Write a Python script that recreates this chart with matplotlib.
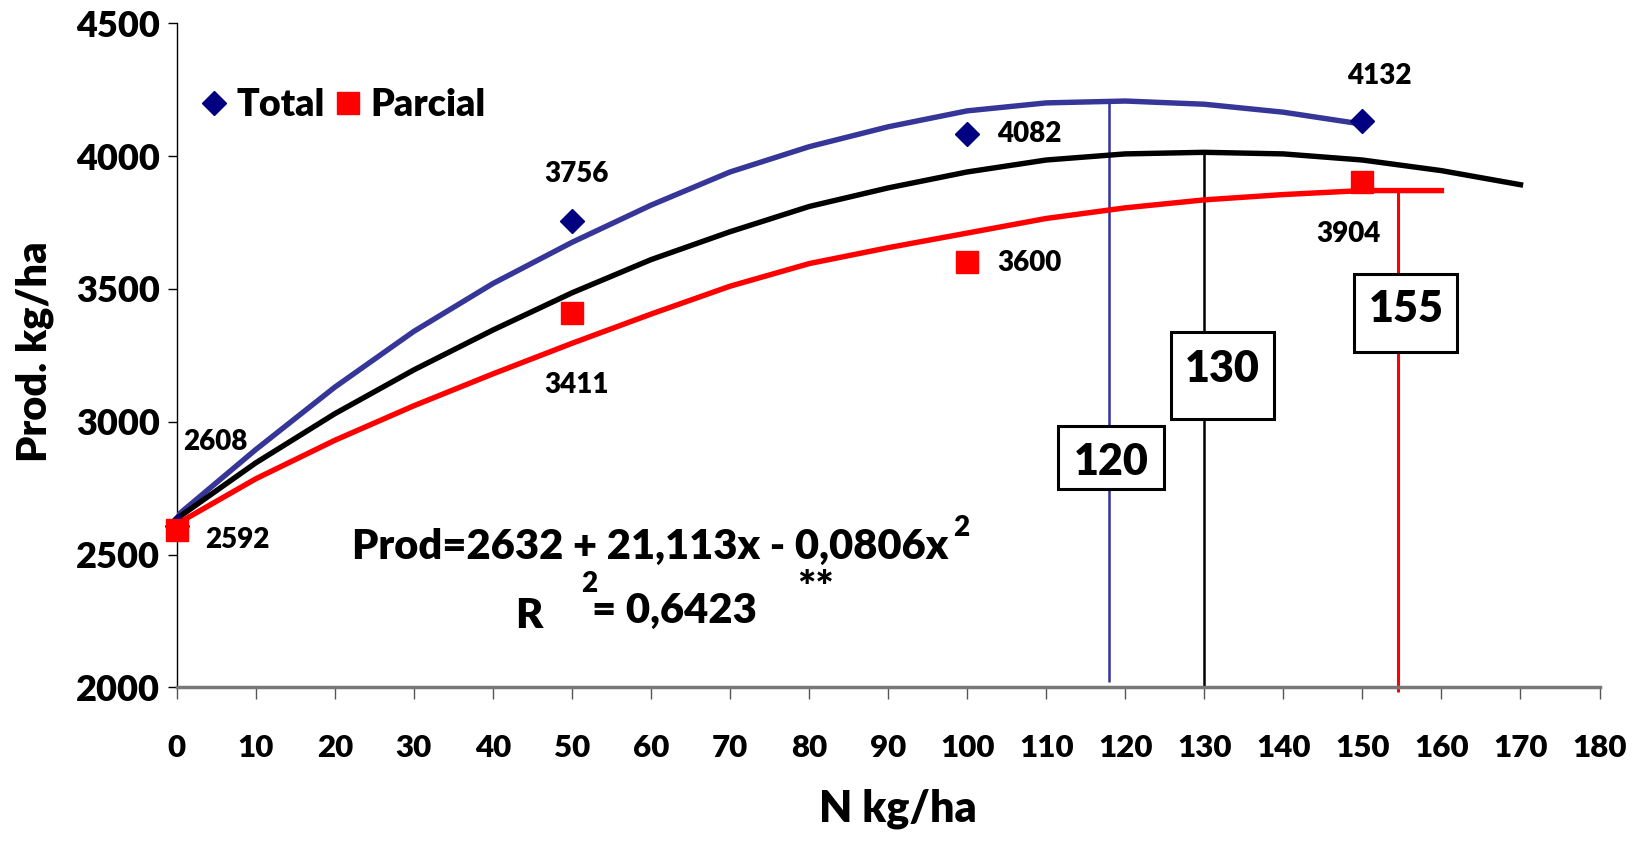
import matplotlib
matplotlib.use("Agg")
import matplotlib.pyplot as plt
from matplotlib.patches import Rectangle

plt.rcParams["font.family"] = ["Lato", "DejaVu Sans"]
plt.rcParams["font.weight"] = "heavy"
W = "heavy"

# fitted curves (N kg/ha -> kg/ha)
n_total = [0, 10, 20, 30, 40, 50, 60, 70, 80, 90, 100, 110, 120, 130, 140, 150]
y_total = [2645, 2895, 3130, 3340, 3520, 3675, 3815, 3940, 4035, 4110, 4170, 4200, 4207, 4195, 4165, 4120]

n_mean = [0, 10, 20, 30, 40, 50, 60, 70, 80, 90, 100, 110, 120, 130, 140, 150, 160, 170]
y_mean = [2635, 2845, 3030, 3195, 3345, 3485, 3610, 3715, 3810, 3880, 3940, 3985, 4008, 4014, 4008, 3985, 3945, 3892]

n_parc = [0, 10, 20, 30, 40, 50, 60, 70, 80, 90, 100, 110, 120, 130, 140, 150, 160]
y_parc = [2615, 2785, 2930, 3060, 3180, 3295, 3405, 3510, 3595, 3655, 3710, 3765, 3805, 3835, 3855, 3870, 3870]

# observed means
n_obs = [0, 50, 100, 150]
obs_total = [2608, 3756, 4082, 4132]
obs_parc = [2592, 3411, 3600, 3904]

# optimum doses
opt_n = [118, 130, 154.5]
opt_y = [4207, 4014, 3870]
opt_lbl = ["120", "130", "155"]

fig = plt.figure(figsize=(16.5, 8.59), dpi=100)
ax = fig.add_axes([0.1071, 0.1998, 0.8623, 0.7732])

ax.plot(n_total, y_total, color="#363699", lw=3.9, zorder=3)
ax.plot(n_mean, y_mean, color="black", lw=3.9, zorder=3)
ax.plot(n_parc, y_parc, color="red", lw=3.9, zorder=3)

ax.plot(n_obs, obs_total, ls="none", marker="D", ms=12, color="#000080",
        mec="#000080", zorder=5, clip_on=False, label="Total")
ax.plot(n_obs, obs_parc, ls="none", marker="s", ms=16, color="red",
        mec="red", zorder=5, clip_on=False, label="Parcial")

# vertical lines at the optimum doses
ax.vlines(opt_n[0], 2020, opt_y[0], color="#3333A0", lw=1.8, zorder=2)
ax.vlines(opt_n[1], 2000, opt_y[1], color="black", lw=1.8, zorder=2)
ax.vlines(opt_n[2], 1984, opt_y[2], color="red", lw=2.2, zorder=2, clip_on=False)

# boxed dose labels: (box centre x, box centre y, box w, box h, text y)
boxes = [(118.2, 2867, 13.4, 237, 2848),
         (132.3, 3175, 13.0, 328, 3200),
         (155.5, 3409, 13.0, 297, 3423)]
for (bx, by, bw, bh, ty), lbl in zip(boxes, opt_lbl):
    ax.add_patch(Rectangle((bx - bw / 2, by - bh / 2), bw, bh, fc="white",
                           ec="black", lw=2.2, zorder=6))
    ax.text(bx, ty, lbl, ha="center", va="center", fontsize=31, fontweight=W, zorder=7)

# data labels
lbl_pos_total = [(4.9, 2923), (50.6, 3934), (107.9, 4084), (152.1, 4302)]
lbl_pos_parc = [(7.7, 2555), (50.6, 3137), (107.9, 3597), (148.2, 3708)]
for (lx, ly), v in zip(lbl_pos_total + lbl_pos_parc, obs_total + obs_parc):
    ax.text(lx, ly, str(v), ha="center", va="center", fontsize=20, fontweight=W)

# equation
eq = ax.text(22.2, 2528, "Prod=2632 + 21,113x - 0,0806x", ha="left", va="center",
             fontsize=30, fontweight=W)
ax.annotate("2", xy=(1, 0.5), xycoords=eq, xytext=(3, 14), textcoords="offset points",
            ha="left", va="center", fontsize=20, fontweight=W)
ax.text(44.6, 2270, "R", ha="center", va="center", fontsize=30, fontweight=W)
ax.text(52.2, 2388, "2", ha="center", va="center", fontsize=20, fontweight=W)
ax.text(52.5, 2289, "= 0,6423", ha="left", va="center", fontsize=30, fontweight=W)
ax.text(80.8, 2370, "**", ha="center", va="center", fontsize=31, fontweight=W)

ax.set_xlim(0, 180)
ax.set_ylim(2000, 4500)
ax.set_xticks(range(0, 181, 10))
ax.set_yticks(range(2000, 4501, 500))
ax.tick_params(axis="x", length=8.5, width=1, color="#555555", pad=25, labelsize=22.5)
ax.tick_params(axis="y", length=6.5, width=1, pad=5.5, labelsize=26)
for t in ax.get_xticklabels() + ax.get_yticklabels():
    t.set_fontweight(W)

ax.spines["top"].set_visible(False)
ax.spines["right"].set_visible(False)
ax.spines["left"].set_linewidth(1)
ax.spines["bottom"].set_color("#777777")
ax.spines["bottom"].set_linewidth(2.5)

ax.set_xlabel("N kg/ha", fontsize=31, fontweight=W)
ax.xaxis.set_label_coords(0.5066, -0.153)
ax.set_ylabel("Prod. kg/ha", fontsize=30, fontweight=W)
ax.yaxis.set_label_coords(-0.086, 0.506)

ax.legend(loc="upper left", bbox_to_anchor=(0.004, 0.925), ncol=2, frameon=False,
          handletextpad=0.15, columnspacing=0.15, handlelength=0.9,
          borderaxespad=0, prop={"weight": W, "size": 27})

fig.savefig("out.png", dpi=100)
